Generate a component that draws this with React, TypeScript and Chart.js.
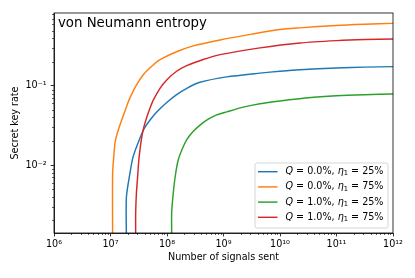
import React, { useEffect, useRef } from 'react';
import { Chart, registerables } from 'chart.js';

Chart.register(...registerables);

// ---- data ----
const seriesColors = ['#1f77b4', '#ff7f0e', '#2ca02c', '#d62728'];
const legendQ = ['0.0%', '0.0%', '1.0%', '1.0%'];
const legendEta = ['25%', '75%', '25%', '75%'];
const titleText = 'von Neumann entropy';
const xTitle = 'Number of signals sent';
const yTitle = 'Secret key rate';

// Q = 0.0%, eta1 = 25%
const blueN = [1.91e7, 1.91e7, 2.21e7, 2.51e7, 3.33e7, 4.07e7, 5.71e7, 7.52e7, 9.89e7, 1.48e8, 2.24e8, 3.84e8, 1.14e9, 4.43e9, 1e10, 2.24e10, 1e11, 3.16e11, 1e12];
const blueR = [0.0012, 0.0039, 0.0079, 0.0127, 0.022, 0.030, 0.0417, 0.0513, 0.0617, 0.0776, 0.0933, 0.111, 0.13, 0.145, 0.153, 0.16, 0.1685, 0.1725, 0.175];
// Q = 0.0%, eta1 = 75%
const orangeN = [1.09e7, 1.09e7, 1.15e7, 1.2e7, 1.32e7, 1.47e7, 1.7e7, 2.0e7, 2.21e7, 2.82e7, 3.8e7, 5.25e7, 7.52e7, 1.48e8, 2.92e8, 8.71e8, 3.16e9, 1e10, 2.24e10, 1e11, 3.16e11, 1e12];
const orangeR = [0.0012, 0.0079, 0.0134, 0.019, 0.0254, 0.032, 0.043, 0.059, 0.0705, 0.10, 0.138, 0.174, 0.214, 0.27, 0.32, 0.38, 0.45, 0.515, 0.54, 0.58, 0.60, 0.615];
// Q = 1.0%, eta1 = 25%
const greenN = [1.21e8, 1.21e8, 1.29e8, 1.41e8, 1.58e8, 1.86e8, 2.24e8, 2.82e8, 3.84e8, 5.37e8, 7.59e8, 1.14e9, 2.24e9, 4.43e9, 1e10, 3.16e10, 1e11, 3.16e11, 1e12];
const greenR = [0.0012, 0.0025, 0.0044, 0.0075, 0.0116, 0.016, 0.021, 0.026, 0.032, 0.038, 0.043, 0.047, 0.054, 0.0596, 0.0646, 0.071, 0.075, 0.0774, 0.079];
// Q = 1.0%, eta1 = 75%
const redN = [2.79e7, 2.79e7, 2.88e7, 3.02e7, 3.16e7, 3.33e7, 3.55e7, 3.8e7, 4.37e7, 5.01e7, 5.71e7, 7.52e7, 9.89e7, 1.48e8, 2.24e8, 4.37e8, 8.71e8, 4.43e9, 2.24e10, 1e11, 3.16e11, 1e12];
const redR = [0.0012, 0.0025, 0.0045, 0.0071, 0.0112, 0.0158, 0.0219, 0.0282, 0.0398, 0.0525, 0.066, 0.0933, 0.119, 0.153, 0.18, 0.215, 0.248, 0.302, 0.348, 0.373, 0.385, 0.39];

const xTickValues = [1e6, 1e7, 1e8, 1e9, 1e10, 1e11, 1e12];
const xTickLabels = ['10⁶', '10⁷', '10⁸', '10⁹', '10¹⁰', '10¹¹', '10¹²'];
const yTickValues = [1e-2, 1e-1];
const yTickLabels = ['10⁻²', '10⁻¹'];
const xMin = 1e6;
const xMax = 1e12;
const yMin = 1.39e-3;
const yMax = 0.832;

const FONT = 'DejaVu Sans';
const FS = 9.6;

const toPts = (n: number[], r: number[]) => n.map((v, i) => ({ x: v, y: r[i] }));

const decorPlugin = {
  id: 'decor',
  afterDraw(chart: any) {
    const { ctx, chartArea: a, scales } = chart;
    const xs = scales.x;
    const ys = scales.y;
    ctx.save();
    ctx.strokeStyle = '#000';
    // minor ticks
    ctx.lineWidth = 0.6;
    ctx.beginPath();
    for (let e = 6; e < 12; e++) {
      for (let m = 2; m <= 9; m++) {
        const px = Math.round(xs.getPixelForValue(m * Math.pow(10, e))) + 0.5;
        ctx.moveTo(px, a.bottom);
        ctx.lineTo(px, a.bottom + 2);
      }
    }
    for (let e = -3; e <= -1; e++) {
      for (let m = 2; m <= 9; m++) {
        const v = m * Math.pow(10, e);
        if (v < yMin || v > yMax) continue;
        const py = Math.round(ys.getPixelForValue(v)) + 0.5;
        ctx.moveTo(a.left, py);
        ctx.lineTo(a.left - 2, py);
      }
    }
    ctx.stroke();
    // frame
    ctx.lineWidth = 0.8;
    ctx.strokeRect(a.left, a.top, a.right - a.left, a.bottom - a.top);

    // title inside axes
    ctx.fillStyle = '#000';
    ctx.font = `13.3px "${FONT}"`;
    ctx.textBaseline = 'alphabetic';
    ctx.textAlign = 'left';
    ctx.fillText(titleText, a.left + 4, a.top + 13.5);

    // legend (lower right)
    const w = 133;
    const h = 65;
    const bx = a.right - 5 - w;
    const by = a.bottom - 5 - h;
    ctx.beginPath();
    const r = 2;
    ctx.moveTo(bx + r, by);
    ctx.lineTo(bx + w - r, by);
    ctx.quadraticCurveTo(bx + w, by, bx + w, by + r);
    ctx.lineTo(bx + w, by + h - r);
    ctx.quadraticCurveTo(bx + w, by + h, bx + w - r, by + h);
    ctx.lineTo(bx + r, by + h);
    ctx.quadraticCurveTo(bx, by + h, bx, by + h - r);
    ctx.lineTo(bx, by + r);
    ctx.quadraticCurveTo(bx, by, bx + r, by);
    ctx.closePath();
    ctx.fillStyle = 'rgba(255,255,255,0.8)';
    ctx.fill();
    ctx.strokeStyle = 'rgba(204,204,204,0.8)';
    ctx.lineWidth = 1;
    ctx.stroke();

    ctx.textBaseline = 'middle';
    for (let i = 0; i < 4; i++) {
      const cy = by + 8.7 + i * 15.2;
      ctx.strokeStyle = seriesColors[i];
      ctx.lineWidth = 1.45;
      ctx.beginPath();
      ctx.moveTo(bx + 3, cy);
      ctx.lineTo(bx + 22.5, cy);
      ctx.stroke();
      let tx = bx + 30.5;
      ctx.fillStyle = '#000';
      const parts: [string, string, number][] = [
        ['Q', 'italic', 0],
        [` = ${legendQ[i]}, `, 'normal', 0],
        ['η', 'italic', 0],
        ['1', 'small', 2],
        [` = ${legendEta[i]}`, 'normal', 0],
      ];
      for (const [t, style, dy] of parts) {
        if (style === 'italic') ctx.font = `italic ${FS}px "${FONT}"`;
        else if (style === 'small') ctx.font = `${FS * 0.7}px "${FONT}"`;
        else ctx.font = `${FS}px "${FONT}"`;
        ctx.fillText(t, tx, cy + dy);
        tx += ctx.measureText(t).width;
      }
    }
    ctx.restore();
  },
};

export default function App() {
  const ref = useRef<HTMLCanvasElement | null>(null);
  useEffect(() => {
    const canvas = ref.current;
    if (!canvas) return;
    const mk = (n: number[], r: number[], c: string, order: number) => ({
      data: toPts(n, r),
      borderColor: c,
      backgroundColor: c,
      borderWidth: 1.45,
      pointRadius: 0,
      tension: 0.25,
      fill: false,
      order,
    });
    const chart = new Chart(canvas, {
      type: 'line',
      data: {
        datasets: [
          mk(blueN, blueR, seriesColors[0], 3),
          mk(orangeN, orangeR, seriesColors[1], 2),
          mk(greenN, greenR, seriesColors[2], 1),
          mk(redN, redR, seriesColors[3], 0),
        ],
      },
      options: {
        animation: false,
        responsive: false,
        devicePixelRatio: 1,
        layout: { padding: { top: 13, right: 22, left: 0, bottom: 0 } },
        plugins: { legend: { display: false }, tooltip: { enabled: false }, title: { display: false } },
        scales: {
          x: {
            type: 'logarithmic',
            min: xMin,
            max: xMax,
            afterBuildTicks: (s: any) => {
              s.ticks = xTickValues.map((v) => ({ value: v, major: true }));
            },
            afterFit: (s: any) => {
              s.height = 45;
            },
            ticks: {
              autoSkip: false,
              maxRotation: 0,
              padding: 2,
              color: '#000',
              font: { family: FONT, size: FS },
              callback: (v: any) => {
                const i = xTickValues.indexOf(Number(v));
                return i >= 0 ? xTickLabels[i] : '';
              },
            },
            grid: { display: true, drawOnChartArea: false, drawTicks: true, tickLength: 3.4, color: '#000', lineWidth: 0.8 },
            border: { display: true, color: '#000', width: 0.8 },
            title: { display: true, text: xTitle, color: '#000', font: { family: FONT, size: FS }, padding: { top: 0, bottom: 14.5 } },
          },
          y: {
            type: 'logarithmic',
            min: yMin,
            max: yMax,
            afterBuildTicks: (s: any) => {
              s.ticks = yTickValues.map((v) => ({ value: v, major: true }));
            },
            afterFit: (s: any) => {
              s.width = 54;
            },
            ticks: {
              autoSkip: false,
              padding: 4,
              color: '#000',
              font: { family: FONT, size: FS },
              callback: (v: any) => {
                const i = yTickValues.indexOf(Number(v));
                return i >= 0 ? yTickLabels[i] : '';
              },
            },
            grid: { display: true, drawOnChartArea: false, drawTicks: true, tickLength: 3.4, color: '#000', lineWidth: 0.8 },
            border: { display: true, color: '#000', width: 0.8 },
            title: { display: true, text: yTitle, color: '#000', font: { family: FONT, size: FS }, padding: { top: 9.6, bottom: 0 } },
          },
        },
      },
      plugins: [decorPlugin],
    } as any);
    return () => chart.destroy();
  }, []);
  return (
    <div style={{ position: 'absolute', left: 0, top: 0, width: 415, height: 278, background: '#fff' }}>
      <canvas ref={ref} width={415} height={278} style={{ display: 'block', width: 415, height: 278 }} />
    </div>
  );
}
